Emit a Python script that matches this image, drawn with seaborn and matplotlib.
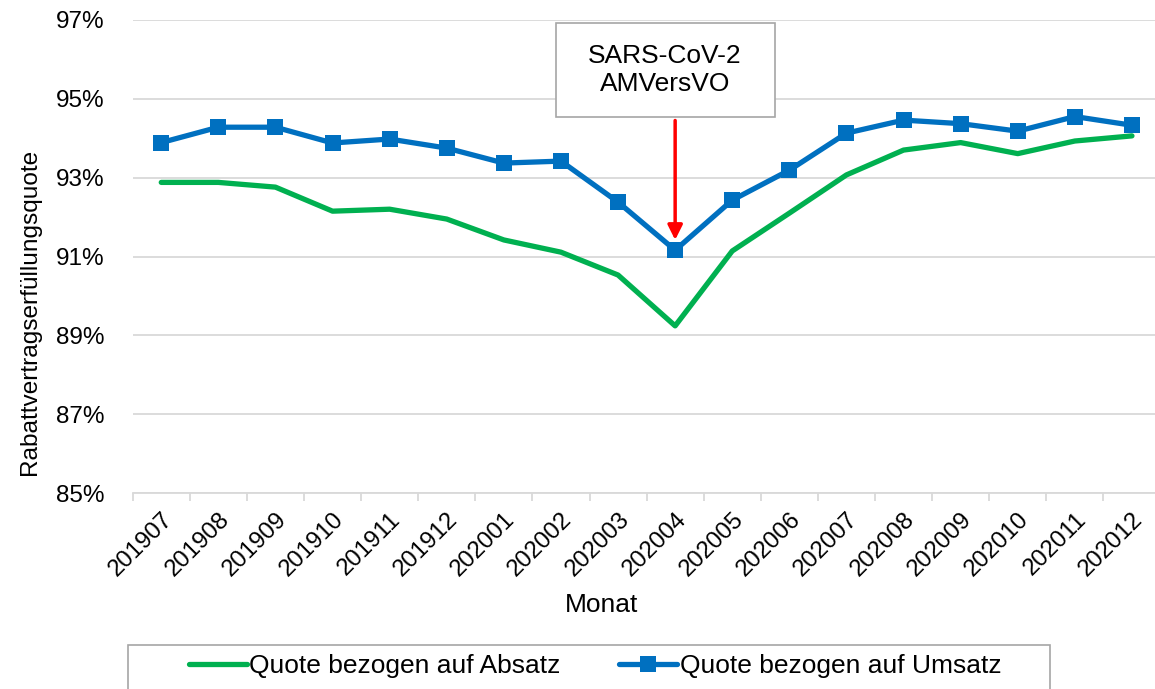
import matplotlib
matplotlib.use("Agg")
import matplotlib.pyplot as plt
from matplotlib.patches import Rectangle
from matplotlib.ticker import FixedLocator, FuncFormatter
import seaborn as sns
import pandas as pd
import numpy as np

months = ["201907", "201908", "201909", "201910", "201911", "201912",
          "202001", "202002", "202003", "202004", "202005", "202006",
          "202007", "202008", "202009", "202010", "202011", "202012"]
quote_absatz = [92.88, 92.88, 92.76, 92.15, 92.20, 91.95, 91.42, 91.11, 90.53,
                89.24, 91.14, 92.10, 93.07, 93.70, 93.89, 93.61, 93.93, 94.06]
quote_umsatz = [93.89, 94.28, 94.28, 93.88, 93.98, 93.75, 93.37, 93.42, 92.38,
                91.16, 92.43, 93.19, 94.13, 94.46, 94.37, 94.18, 94.55, 94.33]
yticks = [85, 87, 89, 91, 93, 95, 97]
series_names = ["Quote bezogen auf Absatz", "Quote bezogen auf Umsatz"]
annot_text = "SARS-CoV-2\nAMVersVO"
annot_month = "202004"

sns.set_theme(style="white")
plt.rcParams["font.family"] = ["Liberation Sans", "DejaVu Sans"]
plt.rcParams["text.color"] = "black"

GREEN = "#00B050"
BLUE = "#0070C0"
GRID = "#D9D9D9"

W, H = 1155, 689
fig = plt.figure(figsize=(W / 100, H / 100), dpi=100)
ax = fig.add_axes([132.7 / W, 1 - 493 / H, 1027.8 / W, 473 / H])

df = pd.DataFrame({"idx": np.arange(len(months)),
                   "absatz": quote_absatz, "umsatz": quote_umsatz})

sns.lineplot(data=df, x="idx", y="absatz", ax=ax, color=GREEN, lw=3.8,
             label=series_names[0], legend=False, solid_capstyle="round", zorder=3)
sns.lineplot(data=df, x="idx", y="umsatz", ax=ax, color=BLUE, lw=3.8,
             marker="s", markersize=11, markeredgewidth=0,
             label=series_names[1], legend=False, zorder=4)

ax.set_xlim(-0.5, len(months) - 0.5)
ax.set_ylim(yticks[0], yticks[-1])
ax.set_yticks(yticks)
ax.yaxis.set_major_formatter(FuncFormatter(lambda v, p: f"{v:.0f}%"))
ax.grid(axis="y", color=GRID, lw=1.3)
ax.set_axisbelow(True)

ax.set_xticks(np.arange(len(months)))
ax.set_xticklabels(months, rotation=45, ha="right", rotation_mode="anchor")
ax.xaxis.set_minor_locator(FixedLocator(np.arange(len(months) + 1) - 0.5))
ax.tick_params(axis="x", which="major", length=0, pad=11, labelsize=17.3,
               colors="black")
ax.tick_params(axis="x", which="minor", length=6, width=1.3, color=GRID, bottom=True)
ax.tick_params(axis="y", length=0, pad=20, labelsize=17.5, colors="black")

for s in ["top", "right", "left"]:
    ax.spines[s].set_visible(False)
ax.spines["bottom"].set_color(GRID)
ax.spines["bottom"].set_linewidth(1.3)
ax.set_xlabel("")
ax.set_ylabel("")

fig.text(30 / W, 1 - 312 / H, "Rabattvertragserfüllungsquote", rotation=90,
         ha="center", va="center", fontsize=17.6, color="black")
fig.text(602 / W, 1 - 605 / H, "Monat", ha="center", va="center",
         fontsize=19, color="black")

# annotation box and arrow
fig.patches.append(Rectangle((556 / W, 1 - 117 / H), 219 / W, 94 / H,
                             transform=fig.transFigure, facecolor="white",
                             edgecolor="#A6A6A6", lw=1.2, zorder=5))
fig.text(665 / W, 1 - 70 / H, annot_text, ha="center", va="center",
         fontsize=19, linespacing=1.2, color="black", zorder=6)
xi = months.index(annot_month)
ax.annotate("", xy=(xi, 91.42), xytext=(xi, 94.45),
            arrowprops=dict(arrowstyle="-|>", color="red", lw=2.5,
                            mutation_scale=22, shrinkA=0, shrinkB=0), zorder=6)

# legend
fig.patches.append(Rectangle((128 / W, -0.05), (1050 - 128) / W, 0.05 + 1 - 645 / H,
                             transform=fig.transFigure, facecolor="white",
                             edgecolor="#A6A6A6", lw=1.2, zorder=1))
handles, labels = ax.get_legend_handles_labels()
fig.legend(handles, labels, loc="center", bbox_to_anchor=(595 / W, 1 - 666 / H),
           ncol=2, frameon=False, fontsize=19, handlelength=2.2,
           handletextpad=0.1, columnspacing=2.2, borderpad=0, labelcolor="black")

fig.savefig("out.png", dpi=100)
